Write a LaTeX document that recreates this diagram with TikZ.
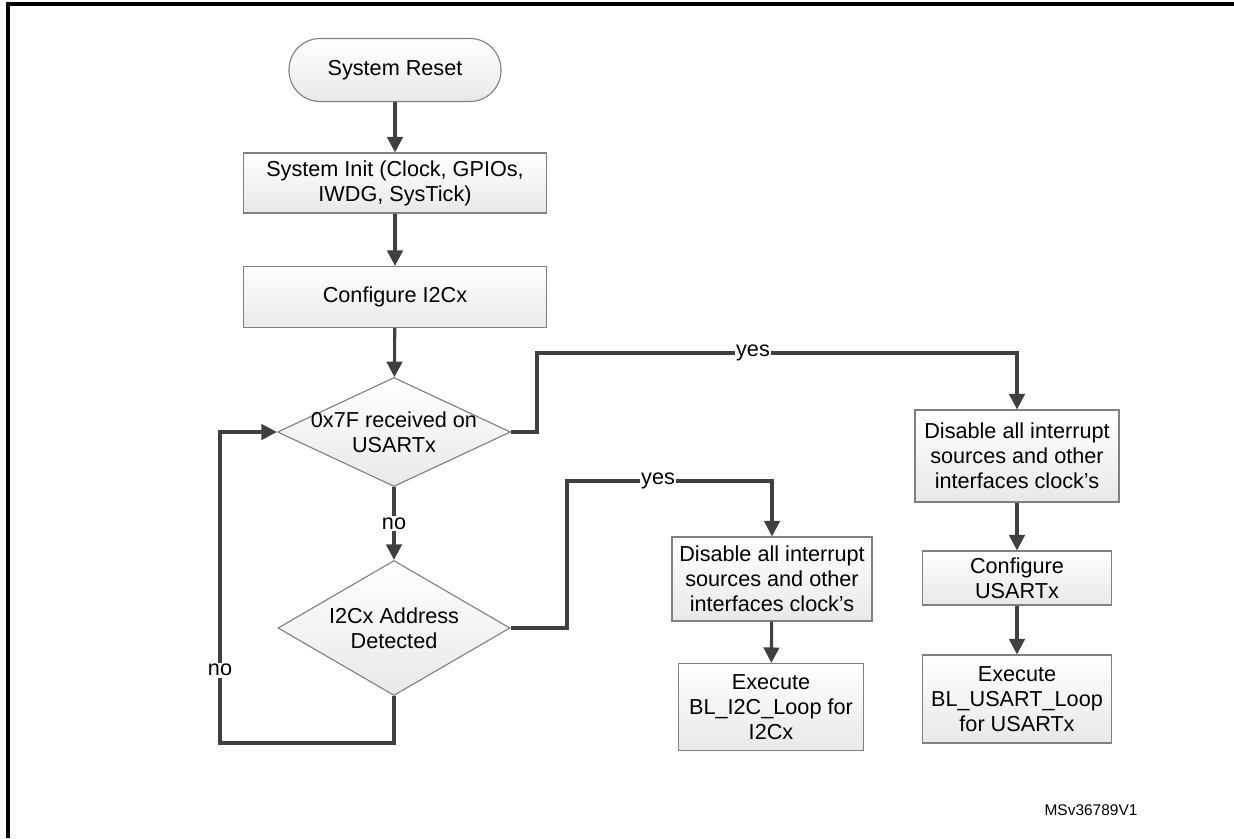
\documentclass[tikz,border=0pt]{standalone}
\usepackage{fontspec}
\setmainfont{Liberation Sans}
\usetikzlibrary{shapes.geometric,arrows.meta}

\begin{document}
\begin{tikzpicture}[x=0.025cm,y=-0.025cm,
	font=\fontsize{15.4}{17.8}\selectfont,
	box/.style={draw=gray,line width=0.8pt,top color=white,bottom color=gray!18,align=center,inner sep=2pt},
	dec/.style={diamond,draw=gray,line width=0.8pt,top color=white,bottom color=gray!18,inner sep=0pt},
	flow/.style={draw=black!75,line width=2.2pt,-{Triangle[length=11pt,width=11pt]}},
	lbl/.style={fill=white,inner sep=1pt}]
	\useasboundingbox (0,0) rectangle (1234,838);
	\draw[line width=2.2pt] (8,838) -- (8,4) -- (1234,4);
	
	\node[box,rounded corners=0.78cm,minimum width=5.3cm,minimum height=1.575cm] (R) at(395,70) {System Reset};
	\node[box,minimum width=7.575cm,minimum height=1.5cm] (I) at(395,183) {System Init (Clock, GPIOs,\\IWDG, SysTick)};
	\node[box,minimum width=7.575cm,minimum height=1.525cm] (K) at(395,297) {Configure I2Cx};
	\node[dec,minimum width=5.825cm,minimum height=2.725cm,label={[align=center]center:0x7F received on\\USARTx}] (U) at(394,432) {};
	\node[dec,minimum width=5.8cm,minimum height=3.375cm,label={[align=center]center:I2Cx Address\\Detected}] (A) at(394,628) {};
	
	\node[box,minimum width=5cm,minimum height=2.1cm] (DI) at(772,579) {Disable all interrupt\\sources and other\\interfaces clock’s};
	\node[box,minimum width=4.625cm,minimum height=2.175cm] (EI) at(771,707) {Execute\\BL\_I2C\_Loop for\\I2Cx};
	
	\node[box,minimum width=5.1cm,minimum height=2.3cm] (DU) at(1017,456) {Disable all interrupt\\sources and other\\interfaces clock’s};
	\node[box,minimum width=4.725cm,minimum height=1.35cm] (CU) at(1017,578) {Configure\\USARTx};
	\node[box,minimum width=4.725cm,minimum height=2.2cm] (EU) at(1017,699) {Execute\\BL\_USART\_Loop\\for USARTx};
	
	\node[font=\fontsize{11}{13}\selectfont] (V) at(1091,810) {MSv36789V1};
	
	\coordinate (yU) at(537,353);
	\coordinate (yA) at(567,481);
	\coordinate (nA) at(220,743);
	
	\draw[flow] (R)--(I);
	\draw[flow] (I)--(K);
	\draw[flow] (K)--(U);
	\draw[flow] (U)-- node[lbl]{no} (A);
	\draw[flow] (A.south)|-(nA)|- node[lbl,pos=0.117]{no} (U.west);
	
	\draw[flow] (U.east)-|(yU)-| node[lbl,pos=0.225]{yes} (DU.north);
	\draw[flow] (A.east)-|(yA)-| node[lbl,pos=0.222]{yes} (DI.north);
	
	\draw[flow] (DI)--(EI);
	\draw[flow] (DU)--(CU);
	\draw[flow] (CU)--(EU);
\end{tikzpicture}
\end{document}
